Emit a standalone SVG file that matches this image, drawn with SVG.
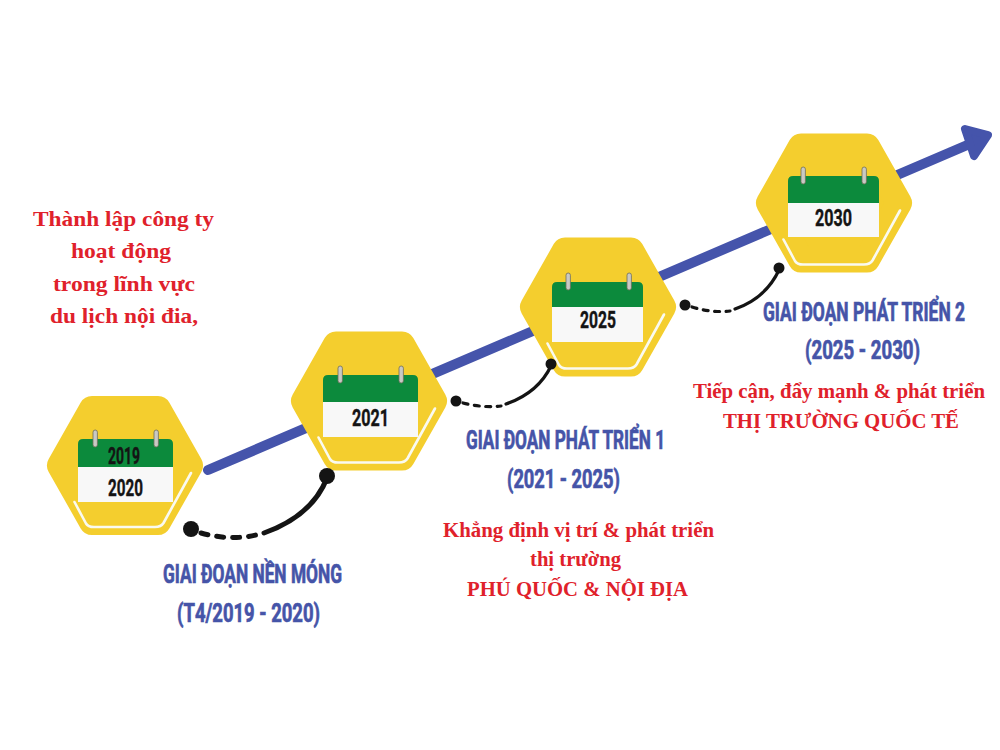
<svg xmlns="http://www.w3.org/2000/svg" width="1000" height="750" viewBox="0 0 1000 750">
<style>
.hex{fill:#F4CE2E;stroke:#F4CE2E;stroke-width:26;stroke-linejoin:round}
.swoosh{fill:none;stroke:#FAFAF0;stroke-width:2.6;stroke-linejoin:round;stroke-linecap:round}
.green{fill:#0C8A3C}
.page{fill:#F8F8F8}
.ring{fill:#C9C9C4;stroke:#6E6E5A;stroke-width:.8}
.yr{font-family:"Roboto","Liberation Sans",sans-serif;font-weight:700;font-size:23px;fill:#141414;stroke:#141414;stroke-width:.4}
.hd{font-family:"Roboto","Liberation Sans",sans-serif;font-weight:700;font-size:25px;fill:#4554A8;stroke:#4554A8;stroke-width:.7}
.rd{font-family:"Liberation Serif","Times New Roman",serif;font-weight:700;font-size:22px;fill:#E0212B}
.axis{fill:none;stroke:#4554AB;stroke-width:10;stroke-linecap:round}
.solid{fill:none;stroke:#141414;stroke-linecap:round}
.dash{fill:none;stroke:#141414;stroke-linecap:round}
.dot{fill:#141414}
</style>
<defs>
<g id="badge">
<polygon class="hex" points="-65,0 -33,-56.5 33,-56.5 65,0 33,56.5 -33,56.5"/>
<path class="swoosh" d="M-50.5 36.5L-39 58Q-37 61.5 -31 61.5H30Q36 61.5 38.5 57.5L66 7.5"/>
</g>
<g id="rings">
<rect class="ring" x="-2" y="0" width="4.4" height="17" rx="2.2"/>
<rect class="ring" x="59" y="0" width="4.4" height="17" rx="2.2"/>
</g>
</defs>
<rect width="1000" height="750" fill="#FFFFFF"/>
<g id="axis">
<line class="axis" x1="208" y1="470" x2="972" y2="143"/>
<polygon points="965,129 988,135 974,156" fill="#4554AB" stroke="#4554AB" stroke-width="8" stroke-linejoin="round"/>
</g>
<g id="node-2019">
<use href="#badge" x="125" y="465.5"/>
<path class="green" d="M78 467V444Q78 439 83 439H168Q173 439 173 444V467Z"/>
<rect class="page" x="78" y="467" width="95" height="35"/>
<use href="#rings" x="95" y="430"/>
<text class="yr" x="108" y="464" textLength="32" lengthAdjust="spacingAndGlyphs">2019</text>
<text class="yr" x="108" y="496" textLength="35" lengthAdjust="spacingAndGlyphs">2020</text>
</g>
<g id="node-2021">
<use href="#badge" x="369" y="401"/>
<path class="green" d="M323 402V380Q323 375 328 375H413Q418 375 418 380V402Z"/>
<rect class="page" x="323" y="402" width="95" height="35"/>
<use href="#rings" x="340" y="366"/>
<text class="yr" x="352" y="426" textLength="37" lengthAdjust="spacingAndGlyphs">2021</text>
</g>
<g id="node-2025">
<use href="#badge" x="598" y="307"/>
<path class="green" d="M552 307V287Q552 282 557 282H638Q643 282 643 287V307Z"/>
<rect class="page" x="552" y="307" width="91" height="35"/>
<use href="#rings" x="568" y="273"/>
<text class="yr" x="580" y="328" textLength="36" lengthAdjust="spacingAndGlyphs">2025</text>
</g>
<g id="node-2030">
<use href="#badge" x="834" y="203"/>
<path class="green" d="M788 203V181Q788 176 793 176H874Q879 176 879 181V203Z"/>
<rect class="page" x="788" y="203" width="91" height="34"/>
<use href="#rings" x="803" y="167"/>
<text class="yr" x="815" y="226" textLength="37" lengthAdjust="spacingAndGlyphs">2030</text>
</g>
<g id="connectors">
<path class="dash" stroke-width="5" stroke-dasharray="7 9" d="M201 533Q230 541 256 535"/>
<path class="solid" stroke-width="5" d="M264 533Q312 516 327 478"/>
<circle class="dot" cx="191" cy="529" r="8"/><circle class="dot" cx="327" cy="476" r="8"/>
<path class="dash" stroke-width="3.2" stroke-dasharray="5 6.5" d="M463 403Q482 408 501 406"/>
<path class="solid" stroke-width="3.2" d="M506 404Q538 393 551 366"/>
<circle class="dot" cx="456" cy="401" r="5.5"/><circle class="dot" cx="551" cy="364" r="5.5"/>
<path class="dash" stroke-width="3.2" stroke-dasharray="5 6.5" d="M692 307Q711 313 730 311"/>
<path class="solid" stroke-width="3.2" d="M735 309Q766 298 779 270"/>
<circle class="dot" cx="685" cy="305" r="5.5"/><circle class="dot" cx="779" cy="268" r="5.5"/>
</g>
<g id="label-intro">
<text class="rd" x="33" y="226" textLength="181" lengthAdjust="spacingAndGlyphs">Thành lập công ty</text>
<text class="rd" x="71" y="258" textLength="100" lengthAdjust="spacingAndGlyphs">hoạt động</text>
<text class="rd" x="53" y="291" textLength="142" lengthAdjust="spacingAndGlyphs">trong lĩnh vực</text>
<text class="rd" x="50" y="323" textLength="148" lengthAdjust="spacingAndGlyphs">du lịch nội đia,</text>
</g>
<g id="label-phase-0">
<text class="hd" transform="translate(163 583) scale(.7 1)" textLength="255.7" lengthAdjust="spacingAndGlyphs">GIAI ĐOẠN NỀN MÓNG</text>
<text class="hd" transform="translate(177 622) scale(.7 1)" textLength="204.3" lengthAdjust="spacingAndGlyphs">(T4/2019 - 2020)</text>
</g>
<g id="label-phase-1">
<text class="hd" transform="translate(466 449) scale(.7 1)" textLength="284.3" lengthAdjust="spacingAndGlyphs">GIAI ĐOẠN PHÁT TRIỂN 1</text>
<text class="hd" transform="translate(507 488) scale(.7 1)" textLength="161.4" lengthAdjust="spacingAndGlyphs">(2021 - 2025)</text>
<text class="rd" x="443" y="537" textLength="271" lengthAdjust="spacingAndGlyphs">Khẳng định vị trí &amp; phát triển</text>
<text class="rd" x="530" y="566" textLength="91" lengthAdjust="spacingAndGlyphs">thị trường</text>
<text class="rd" x="467" y="596" textLength="221" lengthAdjust="spacingAndGlyphs">PHÚ QUỐC &amp; NỘI ĐỊA</text>
</g>
<g id="label-phase-2">
<text class="hd" transform="translate(763 321) scale(.7 1)" textLength="288.6" lengthAdjust="spacingAndGlyphs">GIAI ĐOẠN PHÁT TRIỂN 2</text>
<text class="hd" transform="translate(805 359) scale(.7 1)" textLength="164.3" lengthAdjust="spacingAndGlyphs">(2025 - 2030)</text>
<text class="rd" x="693" y="398" textLength="292" lengthAdjust="spacingAndGlyphs">Tiếp cận, đẩy mạnh &amp; phát triển</text>
<text class="rd" x="723" y="428" textLength="236" lengthAdjust="spacingAndGlyphs">THỊ TRƯỜNG QUỐC TẾ</text>
</g>
</svg>
